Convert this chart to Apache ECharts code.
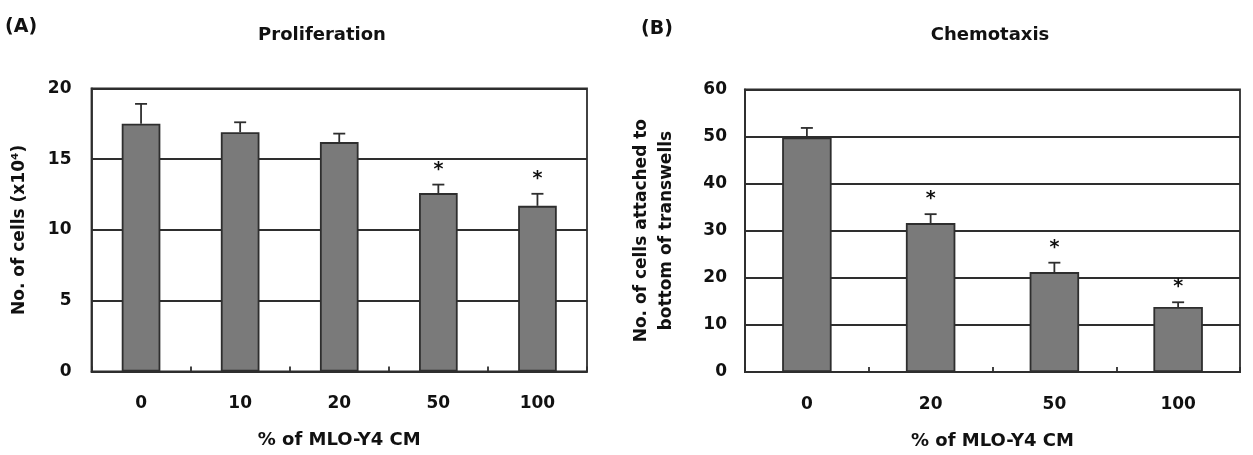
<!DOCTYPE html>
<html>
<head>
<meta charset="utf-8">
<script src="https://cdn.jsdelivr.net/npm/echarts@6/dist/echarts.min.js"></script>
<style>
html,body{margin:0;padding:0;background:#fff;}
#c{width:1253px;height:455px;}
</style>
</head>
<body>
<div id="c"></div>
<script>
// ---- Data ----
const catsA = ['0', '10', '20', '50', '100'];
const valsA = [17.5, 16.9, 16.2, 12.6, 11.7];
const errA  = [1.4, 0.7, 0.6, 0.6, 0.85];
const sigA  = [0, 0, 0, 1, 1];

const catsB = ['0', '20', '50', '100'];
const valsB = [49.8, 31.6, 21.2, 13.8];
const errB  = [2.0, 1.9, 2.0, 1.0];
const sigB  = [0, 1, 1, 1];

const FONT = 'DejaVu Sans';
const INK = '#111111';
const LINE = '#2e2e2e';
const BAR = '#7a7a7a';

function errData(vals, errs, sigs) {
  return vals.map((v, i) => [i, v, errs[i], sigs[i]]);
}

function renderErr(params, api) {
  const i = api.value(0), v = api.value(1), e = api.value(2), s = api.value(3);
  const base = api.coord([i, v]);
  const top = api.coord([i, v + e]);
  const children = [
    {type: 'line', shape: {x1: base[0], y1: base[1], x2: top[0], y2: top[1]},
     style: {stroke: LINE, lineWidth: 1.8}},
    {type: 'line', shape: {x1: top[0] - 6, y1: top[1], x2: top[0] + 6, y2: top[1]},
     style: {stroke: LINE, lineWidth: 1.8}}
  ];
  if (s) {
    children.push({type: 'text', style: {text: '*', x: top[0], y: top[1] - 15,
      align: 'center', verticalAlign: 'middle', fill: INK,
      font: 'bold 19px "' + FONT + '"'}});
  }
  return {type: 'group', children: children};
}

const axisLabelStyle = {color: INK, fontFamily: FONT, fontWeight: 'bold', fontSize: 17};
const nameStyle = {color: INK, fontFamily: FONT, fontWeight: 'bold', fontSize: 17};

function xAxis(gi, cats) {
  return {
    type: 'category', gridIndex: gi, data: cats,
    axisLine: {show: true, lineStyle: {color: LINE, width: 1.8}},
    axisTick: {show: true, inside: true, length: 5, alignWithLabel: false,
               lineStyle: {color: LINE, width: 1.8}},
    axisLabel: Object.assign({margin: 24}, axisLabelStyle),
    name: '% of MLO-Y4 CM', nameLocation: 'middle', nameGap: 60,
    nameTextStyle: Object.assign({}, nameStyle, {fontSize: 18})
  };
}

function yAxis(gi, max, interval, name, gap, lh, margin) {
  return {
    type: 'value', gridIndex: gi, min: 0, max: max, interval: interval,
    axisLine: {show: true, lineStyle: {color: LINE, width: 1.8}},
    axisTick: {show: false},
    axisLabel: Object.assign({margin: margin}, axisLabelStyle),
    splitLine: {show: true, lineStyle: {color: LINE, width: 1.8}},
    name: name, nameLocation: 'middle', nameGap: gap, nameRotate: 90,
    nameTextStyle: Object.assign({}, nameStyle, {lineHeight: lh})
  };
}

const chart = echarts.init(document.getElementById('c'), null, {renderer: 'canvas'});
chart.setOption({
  backgroundColor: '#ffffff',
  animation: false,
  title: [
    {text: 'Proliferation', left: 322, top: 26, textAlign: 'center', padding: 0,
     textStyle: {color: INK, fontFamily: FONT, fontWeight: 'bold', fontSize: 18}},
    {text: 'Chemotaxis', left: 990, top: 26, textAlign: 'center', padding: 0,
     textStyle: {color: INK, fontFamily: FONT, fontWeight: 'bold', fontSize: 18}}
  ],
  graphic: [
    {type: 'text', left: 5, top: 18, style: {text: '(A)', fill: INK,
      font: 'bold 19px "' + FONT + '"'}},
    {type: 'text', left: 641, top: 20, style: {text: '(B)', fill: INK,
      font: 'bold 19px "' + FONT + '"'}}
  ],
  grid: [
    {left: 91.5, top: 88.3, width: 495.5, height: 283.2, show: true,
     borderColor: LINE, borderWidth: 1.8, backgroundColor: 'transparent'},
    {left: 745, top: 89.3, width: 495, height: 283.4, show: true,
     borderColor: LINE, borderWidth: 1.8, backgroundColor: 'transparent'}
  ],
  xAxis: [xAxis(0, catsA), xAxis(1, catsB)],
  yAxis: [
    yAxis(0, 20, 5, 'No. of cells (x10\u2074)', 62, 20, 20),
    yAxis(1, 60, 10, 'No. of cells attached to\nbottom of transwells', 66, 25, 18)
  ],
  series: [
    {type: 'bar', xAxisIndex: 0, yAxisIndex: 0, data: valsA, barWidth: '39%',
     itemStyle: {color: BAR, borderColor: LINE, borderWidth: 1.8}, z: 2},
    {type: 'custom', xAxisIndex: 0, yAxisIndex: 0, data: errData(valsA, errA, sigA),
     renderItem: renderErr, encode: {x: 0, y: 1}, z: 3},
    {type: 'bar', xAxisIndex: 1, yAxisIndex: 1, data: valsB, barWidth: '40%',
     itemStyle: {color: BAR, borderColor: LINE, borderWidth: 1.8}, z: 2},
    {type: 'custom', xAxisIndex: 1, yAxisIndex: 1, data: errData(valsB, errB, sigB),
     renderItem: renderErr, encode: {x: 0, y: 1}, z: 3}
  ]
});
</script>
</body>
</html>
